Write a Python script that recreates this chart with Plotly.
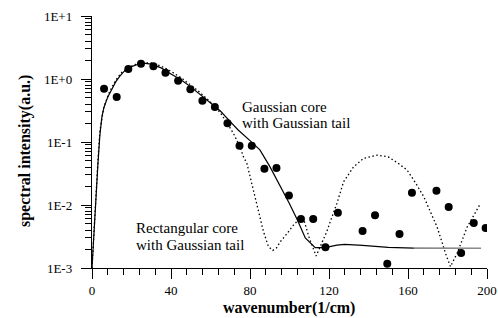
import math
import plotly.graph_objects as go

# measured data points
pts_x = [6.1, 12.5, 18.4, 24.8, 31.1, 37.2, 43.6, 49.8, 55.9, 62.2, 68.6, 74.7, 80.9, 87.3, 93.4,
         99.7, 105.8, 112.0, 118.2, 124.5, 137.0, 143.3, 149.5, 155.7, 162.0, 174.4, 180.6, 186.9,
         193.3, 199.3]
pts_y = [0.70, 0.52, 1.44, 1.75, 1.59, 1.26, 0.94, 0.69, 0.45, 0.36, 0.198, 0.087, 0.087, 0.0377,
         0.0387, 0.0141, 0.0060, 0.0060, 0.00214, 0.0075, 0.00386, 0.0069, 0.00117, 0.00347, 0.0157,
         0.0169, 0.0093, 0.00173, 0.00518, 0.00431]

# Gaussian core with Gaussian tail (solid)
gauss_x = [0, 1, 2, 3, 4, 5, 6, 8, 10, 12, 14, 16, 18, 20, 23, 26, 30, 35, 40, 45, 50, 55, 60, 65,
           70, 74, 80, 85, 90, 95, 100, 104, 108, 113, 118, 124, 128, 137, 150, 163]
gauss_y = [0.001, 0.004, 0.015, 0.045, 0.13, 0.25, 0.35, 0.52, 0.68, 0.9, 1.1, 1.3, 1.45, 1.57, 1.7,
           1.78, 1.72, 1.5, 1.2, 0.97, 0.75, 0.56, 0.42, 0.31, 0.21, 0.155, 0.105, 0.075, 0.041,
           0.021, 0.0105, 0.0058, 0.003, 0.0021, 0.0021, 0.0023, 0.00238, 0.00228, 0.00212, 0.00207]
gauss_tail_x = [163, 197]
gauss_tail_y = [0.00207, 0.00206]

# Rectangular core with Gaussian tail (dotted)
rect_x = [0, 1, 2, 3, 4, 6, 9, 12, 15, 18, 22, 26, 30, 35, 40, 45, 50, 55, 60, 65, 68, 71.6, 74.7,
          76.7, 78.4, 81.8, 84, 86.8, 89.3, 91.5, 93.5, 95.3, 98.7, 102, 105.4, 107.5, 110, 113.5,
          115.6, 118.9, 120.6, 124, 127.4, 132.5, 137.5, 144.5, 150, 155, 159.5, 164, 168, 171.5,
          174.7, 177, 179, 181.5, 184.8, 187.5, 190, 193.5, 196.7]
rect_y = [0.001, 0.004, 0.017, 0.05, 0.15, 0.36, 0.64, 0.96, 1.27, 1.5, 1.7, 1.8, 1.8, 1.6, 1.32,
          1.05, 0.8, 0.6, 0.43, 0.29, 0.21, 0.137, 0.087, 0.058, 0.046, 0.016, 0.0085, 0.0038, 0.0022,
          0.0019, 0.0021, 0.0026, 0.0035, 0.0048, 0.0062, 0.0055, 0.003, 0.00155, 0.0022, 0.0038,
          0.0054, 0.0106, 0.0234, 0.0405, 0.055, 0.062, 0.058, 0.046, 0.036, 0.022, 0.0135, 0.0075,
          0.0045, 0.0027, 0.0017, 0.00105, 0.0017, 0.0028, 0.0045, 0.007, 0.0106]

x_tickvals = [0, 40, 80, 120, 160, 200]
y_tickvals = [10, 1, 0.1, 0.01, 0.001]
y_ticktext = ["1E+1", "1E+0", "1E-1", "1E-2", "1E-3"]

SERIF = "Liberation Serif, Times New Roman, serif"
L, R, T, B = 92, 11, 16, 50
W, H = 498, 318
pw, ph = W - L - R, H - T - B

fig = go.Figure()
fig.add_trace(go.Scatter(x=rect_x, y=rect_y, mode="lines",
                         line=dict(color="black", width=1.3, dash="1.5px,2.5px"), hoverinfo="skip"))
fig.add_trace(go.Scatter(x=gauss_x, y=gauss_y, mode="lines",
                         line=dict(color="black", width=1.2), hoverinfo="skip"))
fig.add_trace(go.Scatter(x=gauss_tail_x, y=gauss_tail_y, mode="lines",
                         line=dict(color="#8a8a8a", width=1.6), hoverinfo="skip"))
fig.add_trace(go.Scatter(x=pts_x, y=pts_y, mode="markers",
                         marker=dict(color="black", size=8, line=dict(width=0)), hoverinfo="skip"))

fig.update_layout(
    width=W, height=H,
    margin=dict(l=L, r=R, t=T, b=B, pad=0, autoexpand=False),
    paper_bgcolor="white", plot_bgcolor="white",
    showlegend=False,
    font=dict(family=SERIF, color="black", size=13),
)
fig.update_xaxes(
    range=[0, 200], tickvals=x_tickvals, ticks="outside", ticklen=10, tickwidth=1, tickcolor="black",
    showline=True, linecolor="black", linewidth=1.2, mirror=False, automargin=False,
    showgrid=False, zeroline=False, tickfont=dict(family=SERIF, size=13, color="black"),
    minor=dict(dtick=8, ticks="outside", ticklen=6, tickwidth=1, tickcolor="black", showgrid=False),
)
fig.update_yaxes(
    type="log", range=[-3, 1], tickvals=y_tickvals, ticktext=y_ticktext,
    ticks="outside", ticklen=10, tickwidth=1, tickcolor="black",
    showline=True, linecolor="black", linewidth=1.2, mirror=False, automargin=False,
    showgrid=False, zeroline=False, tickfont=dict(family=SERIF, size=13, color="black"),
    ticklabelstandoff=6,
    minor=dict(dtick="D1", ticks="outside", ticklen=6, tickwidth=1, tickcolor="black", showgrid=False),
)

ann_font = dict(family=SERIF, size=15, color="black")
for txt, xv, yv in [("Gaussian core", 75.0, 0.36), ("with Gaussian tail", 75.0, 0.197),
                    ("Rectangular core", 21.4, 0.00427), ("with Gaussian tail", 21.4, 0.00232)]:
    fig.add_annotation(x=xv, y=math.log10(yv), xref="x", yref="y", text=txt, showarrow=False,
                       xanchor="left", yanchor="middle", font=ann_font)

# axis titles placed at pixel positions (converted to paper coordinates)
fig.add_annotation(x=(25 - L) / pw, y=(H - B - 151) / ph, xref="paper", yref="paper",
                   xanchor="center", yanchor="middle",
                   text="<b>spectral intensity(a.u.)</b>", showarrow=False, textangle=-90,
                   font=dict(family=SERIF, size=16, color="black"))
fig.add_annotation(x=(289 - L) / pw, y=(H - B - 308) / ph, xref="paper", yref="paper",
                   xanchor="center", yanchor="middle",
                   text="<b>wavenumber(1/cm)</b>", showarrow=False,
                   font=dict(family=SERIF, size=16, color="black"))

fig.write_html("out.html", config={"displayModeBar": False, "staticPlot": True},
               post_script="document.body.style.margin='0';document.body.style.overflow='hidden';")
